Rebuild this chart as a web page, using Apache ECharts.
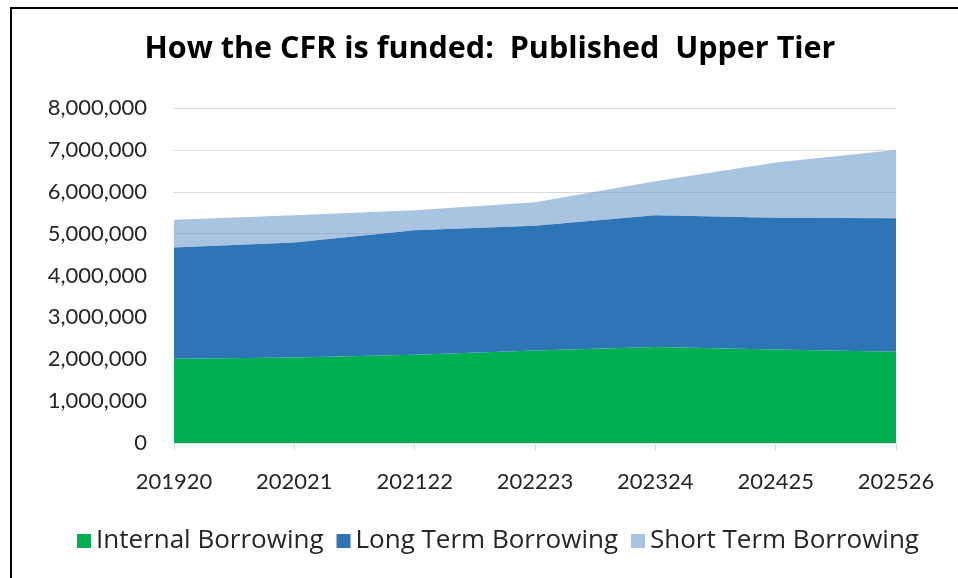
<!DOCTYPE html>
<html>
<head>
<meta charset="utf-8">
<title>How the CFR is funded: Published Upper Tier</title>
<script src="https://cdn.jsdelivr.net/npm/echarts@6/dist/echarts.min.js"></script>
<style>
  html, body { margin: 0; padding: 0; background: #fff; }
  #chart { width: 958px; height: 578px; }
</style>
</head>
<body>
<div id="chart"></div>
<script>
// Financial years and funding sources (GBP)
const years = ['201920', '202021', '202122', '202223', '202324', '202425', '202526'];
const internalBorrowing = [2010000, 2040000, 2110000, 2210000, 2290000, 2230000, 2180000];
const longTermBorrowing = [2660000, 2750000, 2970000, 2980000, 3150000, 3150000, 3190000];
const shortTermBorrowing = [660000, 650000, 480000, 560000, 810000, 1320000, 1630000];
const yTicks = [0, 1000000, 2000000, 3000000, 4000000, 5000000, 6000000, 7000000, 8000000];

const AXIS_FONT = 'Lato, "Open Sans", sans-serif';
const WIDE_FONT = '"Open Sans", Lato, sans-serif';
const TEXT = '#262626';

const chart = echarts.init(document.getElementById('chart'), null, { renderer: 'canvas' });

// Stacked area layer; the legend swatch uses `swatch`, the fill uses `fill` at `opacity`
function areaSeries(name, data, swatch, fill, opacity) {
  return {
    name: name,
    type: 'line',
    stack: 'funding',
    data: data,
    symbol: 'none',
    smooth: false,
    lineStyle: { width: 0 },
    itemStyle: { color: swatch },
    areaStyle: { color: fill, opacity: opacity },
    emphasis: { disabled: true }
  };
}

chart.setOption({
  animation: false,
  backgroundColor: '#ffffff',
  textStyle: { fontFamily: AXIS_FONT },
  title: {
    text: 'How the CFR is funded:  Published  Upper Tier',
    left: 485,
    top: 29,
    textAlign: 'center',
    textStyle: { fontFamily: WIDE_FONT, fontSize: 30.5, fontWeight: 'bold', color: '#000' }
  },
  legend: {
    bottom: 19,
    left: 72,
    itemWidth: 14,
    itemHeight: 14,
    itemGap: 13,
    icon: 'rect',
    textStyle: { fontFamily: WIDE_FONT, fontSize: 26, color: TEXT, padding: [0, 0, 0, 0] },
    data: ['Internal Borrowing', 'Long Term Borrowing', 'Short Term Borrowing']
  },
  grid: { left: 174, right: 62, top: 108, bottom: 135, containLabel: false },
  xAxis: {
    type: 'category',
    data: years,
    boundaryGap: false,
    axisLine: { lineStyle: { color: '#D9D9D9', width: 1 } },
    axisTick: { show: true, alignWithLabel: true, length: 7, lineStyle: { color: '#D9D9D9' } },
    axisLabel: { fontFamily: AXIS_FONT, fontSize: 22, color: TEXT, margin: 28 },
    splitLine: { show: false }
  },
  yAxis: {
    type: 'value',
    min: yTicks[0],
    max: yTicks[yTicks.length - 1],
    interval: yTicks[1] - yTicks[0],
    axisLine: { show: false },
    axisTick: { show: false },
    axisLabel: {
      fontFamily: AXIS_FONT,
      fontSize: 22,
      color: TEXT,
      margin: 27,
      formatter: v => v.toLocaleString('en-US')
    },
    splitLine: { lineStyle: { color: '#D9D9D9', width: 1 } }
  },
  series: [
    areaSeries('Internal Borrowing', internalBorrowing, '#00B050', '#00B050', 1),
    areaSeries('Long Term Borrowing', longTermBorrowing, '#2E75B6', '#2E75B6', 1),
    areaSeries('Short Term Borrowing', shortTermBorrowing, '#A9C4E0', 'rgb(99,148,199)', 0.55)
  ],
  graphic: [
    {
      type: 'polyline',
      silent: true,
      shape: { points: [[11, 578], [11, 8], [958, 8]] },
      style: { stroke: '#000', lineWidth: 2, fill: null }
    }
  ]
});
</script>
</body>
</html>
